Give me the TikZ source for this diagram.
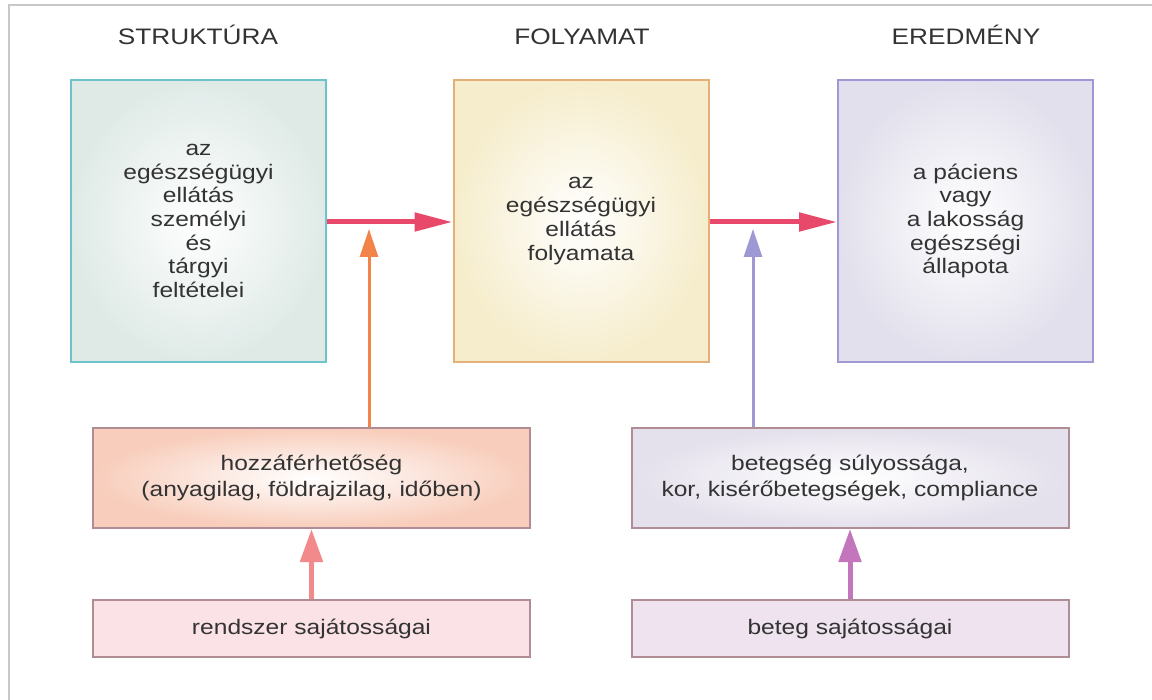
\documentclass[tikz,border=0pt]{standalone}
\usepackage{fontspec}
\setmainfont{Liberation Sans}[FakeStretch=1.17]
\usepackage{tikz}
\usetikzlibrary{arrows.meta, positioning}
\definecolor{textgray}{HTML}{333333}
\definecolor{framegray}{HTML}{C8C8C8}
\definecolor{tealline}{HTML}{6CC3CB}
\definecolor{tealfill}{HTML}{DFEAE7}
\definecolor{tanline}{HTML}{E2B078}
\definecolor{yellowfill}{HTML}{F6EDCC}
\definecolor{violetline}{HTML}{9E98D4}
\definecolor{violetfill}{HTML}{E2E0EC}
\definecolor{redarrow}{HTML}{E8496B}
\definecolor{orangearrow}{HTML}{F2844A}
\definecolor{salmonarrow}{HTML}{F28A8C}
\definecolor{plumarrow}{HTML}{C476BC}
\definecolor{mauveline}{HTML}{B08C94}
\definecolor{peachfill}{HTML}{F8CDBB}
\definecolor{lilacfill}{HTML}{E4E0EC}
\definecolor{pinkfill}{HTML}{FBE2E7}
\definecolor{plumfill}{HTML}{EEE3EF}

\begin{document}
\begin{tikzpicture}[x=1pt, y=-1pt,
    heading/.style={anchor=base, text=textgray, font={\fontsize{22.4}{26}\selectfont}},
    bigbox/.style={draw, line width=2pt, minimum width=255pt, minimum height=282pt,
      align=center, text=textgray, font={\fontsize{21}{23.7}\selectfont}},
    lowbox/.style={draw=mauveline, line width=2pt, minimum width=437pt,
      align=center, text=textgray, font={\fontsize{21}{26.5}\selectfont}},
    mainarrow/.style={draw=redarrow, line width=5pt, -{Triangle[length=38pt, width=18pt]}},
    thinarrow/.style={line width=3pt, -{Triangle[length=28pt, width=18pt]}},
    fatarrow/.style={line width=5pt, -{Triangle[length=33pt, width=22pt]}}]
    \useasboundingbox (0,0) rectangle (1152,700);
    % frame
    \draw[framegray, line width=2.5pt] (9,700) -- (9,5) -- (1152,5);

    \foreach \x/\t/\n in {198/STRUKTÚRA/str, 582/FOLYAMAT/fol, 966/EREDMÉNY/ered}
        \node[heading] (\n) at (\x,45) {\t};

    \node[bigbox, draw=tealline, inner color=white, outer color=tealfill] (struktura) at (198.5,221)
        {az\\egészségügyi\\ellátás\\személyi\\és\\tárgyi\\feltételei};
    \node[bigbox, draw=tanline, inner color=white, outer color=yellowfill] (folyamat) at (581,221)
        {az\\egészségügyi\\ellátás\\folyamata};
    \node[bigbox, draw=violetline, inner color=white, outer color=violetfill] (eredmeny) at (965.5,221)
        {a páciens\\vagy\\a lakosság\\egészségi\\állapota};

    \node[lowbox, minimum height=100pt, inner color=white, outer color=peachfill] (hozzaferes) at (311.5,478)
        {hozzáférhetőség\\(anyagilag, földrajzilag, időben)};
    \node[lowbox, minimum height=100pt, inner color=white, outer color=lilacfill] (betegseg) at (850,478)
        {betegség súlyossága,\\kor, kisérőbetegségek, compliance};
    \node[lowbox, minimum height=57pt, fill=pinkfill] (rendszer) at (311.5,628.5)
        {rendszer sajátosságai};
    \node[lowbox, minimum height=57pt, fill=plumfill] (beteg) at (850,628.5)
        {beteg sajátosságai};

    \coordinate (hozza tip) at (369,229);
    \coordinate (beteg tip) at (753,229);

    \draw[mainarrow] (struktura.east |- 0,222) -- (folyamat.west |- 0,222);
    \draw[mainarrow] (folyamat.east |- 0,222) -- (eredmeny.west |- 0,222);
    \draw[thinarrow, orangearrow] (hozzaferes.north -| hozza tip) -- (hozza tip);
    \draw[thinarrow, violetline] (betegseg.north -| beteg tip) -- (beteg tip);
    \draw[fatarrow, salmonarrow] (rendszer.north) -- (hozzaferes.south);
    \draw[fatarrow, plumarrow] (beteg.north) -- (betegseg.south);
\end{tikzpicture}
\end{document}
